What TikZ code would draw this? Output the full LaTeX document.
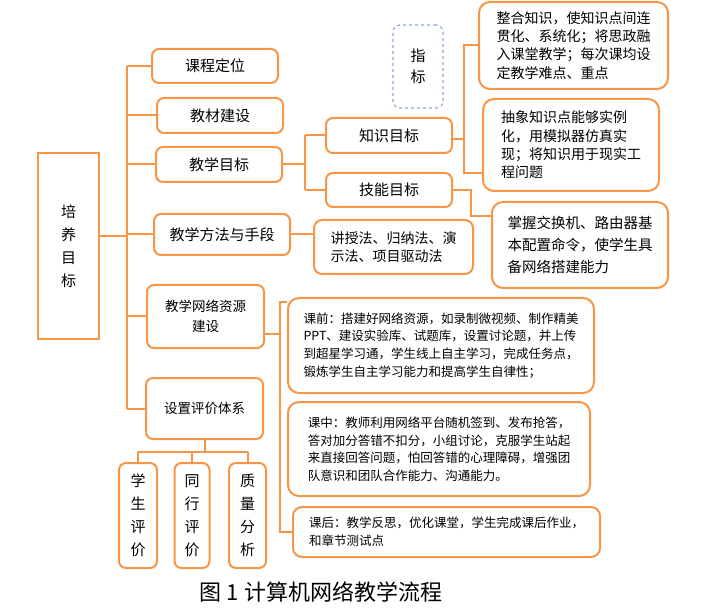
\documentclass[tikz,border=0pt]{standalone}
\usepackage{fontspec}
\newfontfamily\cjk{Noto Sans CJK SC}
\usetikzlibrary{calc}
\definecolor{Line}{HTML}{F79646}
\definecolor{DashBlue}{HTML}{8EA9DB}

\begin{document}
\begin{tikzpicture}[x=1pt, y=-1pt, every node/.style={inner sep=0pt},
  box/.style={draw=Line, line width=2pt, rounded corners=7pt, fill=white, align=center, font=\cjk\fontsize{15}{20}\selectfont},
  note/.style={draw=Line, line width=2pt, rounded corners=11pt, fill=white, align=left, font=\cjk\fontsize{14}{18.3}\selectfont},
  conn/.style={draw=Line, line width=2pt}]
\useasboundingbox (0,0) rectangle (709,609);
% main column
\node[box, rounded corners=0pt, minimum width=61pt, minimum height=186pt, font=\cjk\fontsize{15}{23}\selectfont] (peiyang) at (68.5,246) {培\\养\\目\\标};
\node[box, minimum width=126pt, minimum height=34pt] (kcdw) at (215,66) {课程定位};
\node[box, minimum width=126pt, minimum height=35pt] (jcjs) at (220,115.5) {教材建设};
\node[box, minimum width=126pt, minimum height=35pt] (jxmb) at (219,164.5) {教学目标};
\node[box, minimum width=136pt, minimum height=41pt] (jxff) at (222,234.5) {教学方法与手段};
\node[box, minimum width=117pt, minimum height=63pt, font=\cjk\fontsize{13.5}{20.5}\selectfont] (wlzy) at (205.5,316.5) {教学网络资源\\建设};
\node[box, minimum width=117pt, minimum height=61pt, font=\cjk\fontsize{13.5}{20}\selectfont] (pjtx) at (204.5,408.5) {设置评价体系};
\node[box, minimum width=38pt, minimum height=105pt, font=\cjk\fontsize{15}{23}\selectfont] (xspj) at (138,515.5) {学\\生\\评\\价};
\node[box, minimum width=35pt, minimum height=105pt, font=\cjk\fontsize{15}{23}\selectfont] (thpj) at (192,515.5) {同\\行\\评\\价};
\node[box, minimum width=37pt, minimum height=105pt, font=\cjk\fontsize{15}{23}\selectfont] (zlfx) at (247.5,515.5) {质\\量\\分\\析};
% goals
\node[box, minimum width=126pt, minimum height=35pt] (zsmb) at (389,135.5) {知识目标};
\node[box, minimum width=126pt, minimum height=34pt] (jnmb) at (389,190) {技能目标};
\node[draw=DashBlue, dashed, line width=1.2pt, rounded corners=7pt, minimum width=50pt, minimum height=83pt, align=center, font=\cjk\fontsize{15}{21}\selectfont] (zhibiao) at (418,66.5) {指\\标};
\node[note, minimum width=189pt, minimum height=87pt] (zhzs) at (573.5,45.5) {整合知识，使知识点间连\\贯化、系统化；将思政融\\入课堂教学；每次课均设\\定教学难点、重点};
\node[note, minimum width=176pt, minimum height=92pt] (cxzs) at (571,145) {抽象知识点能够实例\\化，用模拟器仿真实\\现；将知识用于现实工\\程问题};
\node[note, minimum width=176pt, minimum height=86pt, font=\cjk\fontsize{14.5}{22}\selectfont] (zwjhj) at (580,245) {掌握交换机、路由器基\\本配置命令，使学生具\\备网络搭建能力};
\node[note, minimum width=159pt, minimum height=54pt, rounded corners=8pt] (jsf) at (393.5,247) {讲授法、归纳法、演\\示法、项目驱动法};
% lesson stages
\node[note, minimum width=306pt, minimum height=95pt, font=\cjk\fontsize{12.5}{17.7}\selectfont] (kq) at (441,345.5) {课前：搭建好网络资源，如录制微视频、制作精美\\PPT、建设实验库、试题库，设置讨论题，并上传\\到超星学习通，学生线上自主学习，完成任务点，\\锻炼学生自主学习能力和提高学生自律性；};
\node[note, minimum width=302pt, minimum height=94pt, font=\cjk\fontsize{12.5}{17.5}\selectfont] (kz) at (439,449) {课中：教师利用网络平台随机签到、发布抢答，\\答对加分答错不扣分，小组讨论，克服学生站起\\来直接回答问题，怕回答错的心理障碍，增强团\\队意识和团队合作能力、沟通能力。};
\node[note, minimum width=307pt, minimum height=50pt, rounded corners=9pt, font=\cjk\fontsize{12.5}{18}\selectfont] (kh) at (446.5,532) {课后：教学反思，优化课堂，学生完成课后作业，\\和章节测试点};
\node[font=\cjk\fontsize{22}{26}\selectfont] (cap) at (321,592) {图 1 计算机网络教学流程};
% connectors
\coordinate (trunk) at (127,0);
\coordinate (b1) at (305,0);
\coordinate (b2) at (464,0);
\coordinate (b4) at (280,0);
\coordinate (b5) at (0,452);
\draw[conn] ([yshift=10pt]peiyang.east) -- ([yshift=10pt]peiyang.east -| trunk);
\draw[conn] (kcdw.west -| trunk) -- (pjtx.west -| trunk);
\foreach \n in {kcdw,jcjs,jxmb,jxff,wlzy,pjtx}{\draw[conn] (\n.west -| trunk) -- (\n.west);}
\draw[conn] (jxmb.east) -- (jxmb.east -| b1);
\draw[conn] (zsmb.west -| b1) -- (jnmb.west -| b1);
\foreach \n in {zsmb,jnmb}{\draw[conn] (\n.west -| b1) -- (\n.west);}
\draw[conn] ([yshift=-4pt]zsmb.east) -- ([yshift=-4pt]zsmb.east -| b2);
\draw[conn] (zhzs.west) -- (zhzs.west -| b2) -- ($(cxzs.west -| b2)+(0,28)$) -- ($(cxzs.west)+(0,28)$);
\draw[conn] (jnmb.east) -| ($(zwjhj.north west)+(-20,15)$) -- ($(zwjhj.north west)+(0,15)$);
\draw[conn] (jxff.east) -- (jxff.east -| jsf.west);
\draw[conn] ([yshift=-18pt]wlzy.east) -- ([yshift=-18pt]wlzy.east -| b4);
\draw[conn] ($(kq.north west)+(0,5)$) -| (kh.west -| b4) -- (kh.west);
\draw[conn] (pjtx.south) -- (pjtx.south |- b5);
\draw[conn] (xspj.north |- b5) -- (zlfx.north |- b5);
\foreach \n in {xspj,thpj,zlfx}{\draw[conn] (\n.north |- b5) -- (\n.north);}
\end{tikzpicture}
\end{document}
